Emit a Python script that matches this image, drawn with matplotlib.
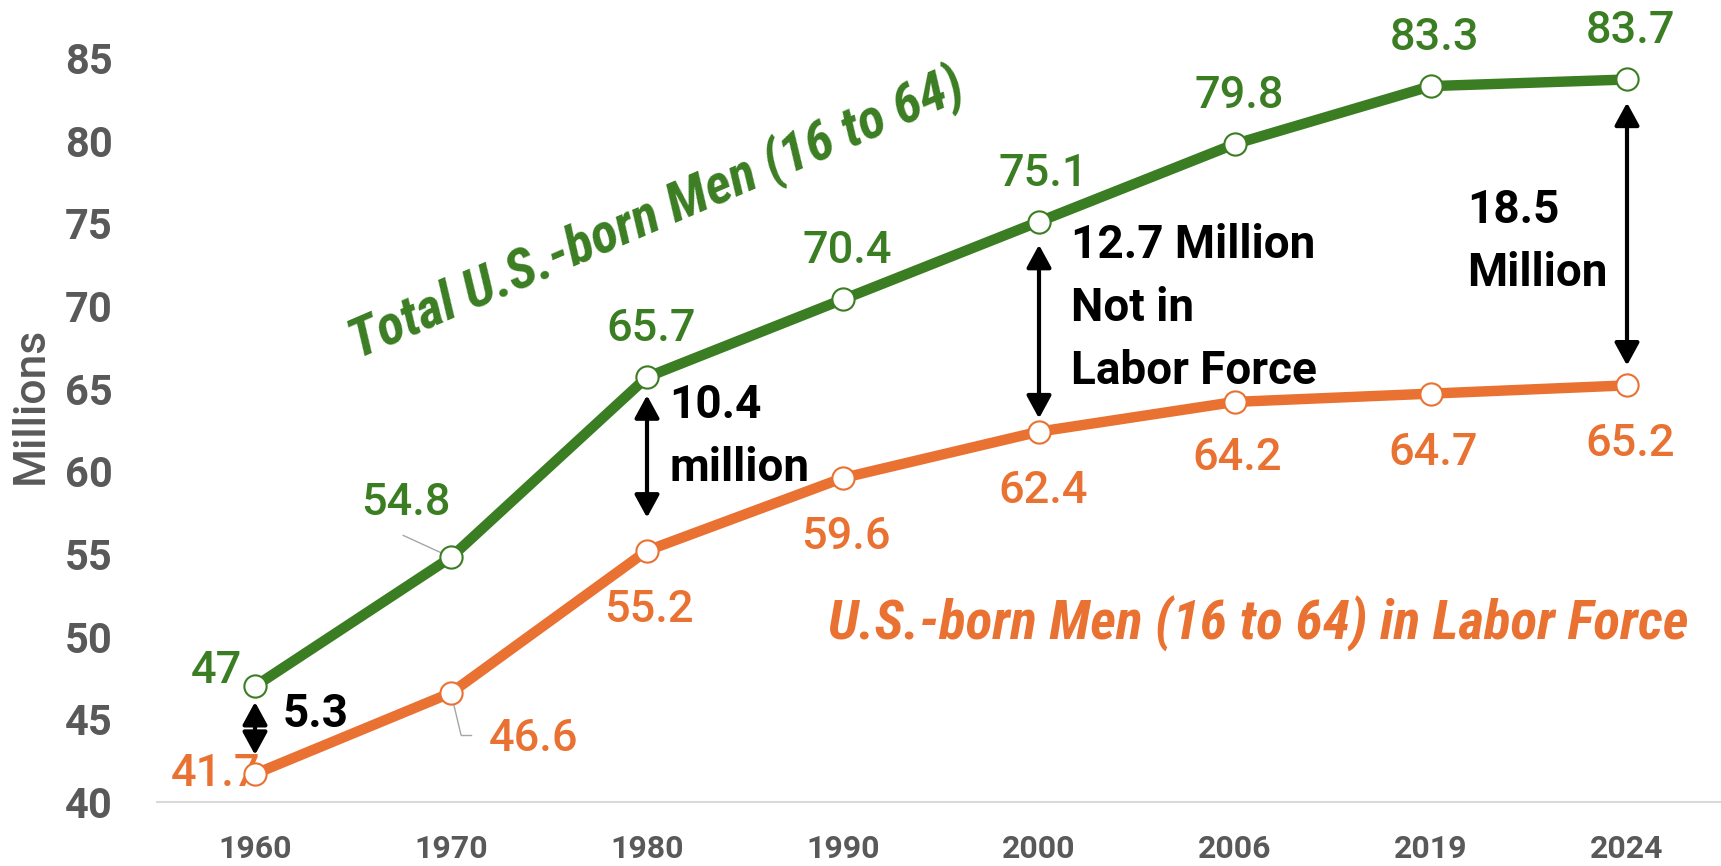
import matplotlib
matplotlib.use("Agg")
import matplotlib.pyplot as plt

# data
years = ["1960", "1970", "1980", "1990", "2000", "2006", "2019", "2024"]
total_men = [47, 54.8, 65.7, 70.4, 75.1, 79.8, 83.3, 83.7]
labor_force = [41.7, 46.6, 55.2, 59.6, 62.4, 64.2, 64.7, 65.2]
total_labels = ["47", "54.8", "65.7", "70.4", "75.1", "79.8", "83.3", "83.7"]
lf_labels = ["41.7", "46.6", "55.2", "59.6", "62.4", "64.2", "64.7", "65.2"]

# gap annotations: index, arrow top, arrow bottom, text lines
gap_idx = [0, 2, 4, 7]
gap_top = [46.05, 64.6, 73.7, 82.3]
gap_bottom = [42.85, 57.2, 63.2, 66.4]
gap_text = [["5.3"], ["10.4", "million"], ["12.7 Million", "Not in", "Labor Force"], ["18.5", "Million"]]

GREEN = "#3B7D23"
ORANGE = "#E97132"
GRAY = "#595959"

fig = plt.figure(figsize=(17.21, 8.66), dpi=100)
ax = fig.add_axes([157 / 1721, 1 - 802 / 866, 1568 / 1721, 744 / 866])

x = list(range(len(years)))
ax.plot(x, total_men, color=GREEN, lw=7.5, marker="o", ms=16, mfc="white",
        mec=GREEN, mew=1.5, zorder=4, solid_capstyle="round")
ax.plot(x, labor_force, color=ORANGE, lw=7.5, marker="o", ms=16, mfc="white",
        mec=ORANGE, mew=1.5, zorder=4, solid_capstyle="round")

ax.set_xlim(-0.5, 7.5)
ax.set_ylim(40, 85)
ax.set_yticks(range(40, 86, 5))
ax.set_xticks(x)
ax.set_xticklabels(years)
for s in ["top", "right", "left"]:
    ax.spines[s].set_visible(False)
ax.spines["bottom"].set_color("#D9D9D9")
ax.spines["bottom"].set_linewidth(1.5)
ax.tick_params(axis="y", length=0, pad=32, labelsize=30, labelcolor=GRAY)
ax.tick_params(axis="x", length=0, pad=23, labelsize=23, labelcolor=GRAY)
for t in ax.get_xticklabels() + ax.get_yticklabels():
    t.set_family("Roboto")
    t.set_fontweight("bold")

fig.text(31 / 1721, 1 - 405 / 866, "Millions", rotation=90, ha="center", va="center",
         fontsize=32, color=GRAY, family="Roboto", fontweight="medium")

# data labels (offsets in pixels, baseline)
lab_kw = dict(textcoords="offset pixels", ha="center", va="baseline", fontsize=32.5,
              family="Roboto", fontweight="medium", zorder=3)
tot_off = [(-39, 3), (-45, 42), (4, 36), (4, 36), (4, 36), (4, 36), (4, 36), (4, 36)]
lf_off = [(-40, -12), (82, -58), (2, -71), (3, -71), (4, -71), (2, -68), (2, -71), (3, -71)]
for i in x:
    ax.annotate(total_labels[i], (i, total_men[i]), xytext=tot_off[i], color=GREEN, **lab_kw)
    ax.annotate(lf_labels[i], (i, labor_force[i]), xytext=lf_off[i], color=ORANGE, **lab_kw)

# leader lines
lead = dict(arrowstyle="-", color="#A6A6A6", lw=1, shrinkA=0, shrinkB=0)
ax.annotate("", (1, total_men[1]), xytext=(-48, 22), textcoords="offset pixels",
            arrowprops=lead, zorder=3.5)
ax.annotate("", (1, labor_force[1]), xytext=(10, -42), textcoords="offset pixels",
            arrowprops=lead, zorder=3.5)
x0 = ax.transData.transform((1, labor_force[1]))
ax.plot([x0[0] + 10, x0[0] + 20], [x0[1] - 42, x0[1] - 42], color="#A6A6A6", lw=1,
        transform=None, zorder=3.5)

# gap arrows and texts
txt_dx = [28, 22, 32, -160]
txt_y = [45.5, 64.2, 73.9, 76.0]
for k, i in enumerate(gap_idx):
    ax.annotate("", xy=(i, gap_bottom[k]), xytext=(i, gap_top[k]),
                arrowprops=dict(arrowstyle="<|-|>,head_length=0.55,head_width=0.3",
                                color="black", lw=3, shrinkA=0, shrinkB=0,
                                mutation_scale=25), zorder=5)
    for j, line in enumerate(gap_text[k]):
        ax.annotate(line, (i, txt_y[k]), xytext=(txt_dx[k], -16 - 63 * j),
                    textcoords="offset pixels", ha="left", va="baseline",
                    fontsize=33, family="Roboto", fontweight="bold", color="black")

# series titles
ax.text(2.082, 74.66, "Total U.S.-born Men (16 to 64)", rotation=23.2, rotation_mode="anchor",
        ha="center", va="baseline", fontsize=40, color=GREEN, family="Roboto Condensed",
        fontweight="bold", style="italic")
ax.text(5.117, 49.8, "U.S.-born Men (16 to 64) in Labor Force", ha="center", va="baseline",
        fontsize=40, color=ORANGE, family="Roboto Condensed", fontweight="bold", style="italic")

fig.savefig("out.png", dpi=100)
